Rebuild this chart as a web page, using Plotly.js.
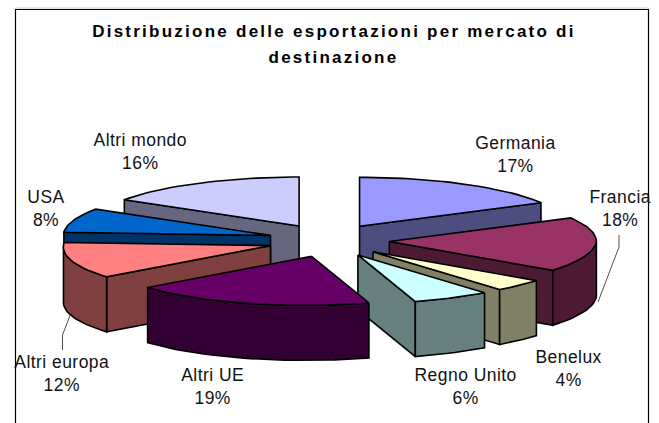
<!DOCTYPE html>
<html><head><meta charset="utf-8">
<script src="https://cdn.plot.ly/plotly-3.0.1.min.js"></script>
<style>
html,body{margin:0;padding:0;background:#fff;overflow:hidden}
#chart{width:659px;height:423px}
.annotation text{letter-spacing:.45px}
.annotation[data-index="8"] text,.annotation[data-index="9"] text{letter-spacing:2.25px}
</style></head><body><div id="chart"></div>
<script>
// Data
const categories = ["Germania","Francia","Benelux","Regno Unito","Altri UE","Altri europa","USA","Altri mondo"];
const shares = [17,18,4,6,19,12,8,16];
const topColors = ["#9999FF","#993366","#FFFFCC","#CCFFFF","#660066","#FF8080","#0066CC","#CCCCFF"];
const sideColors = ["#4D4D80","#4D1A33","#808066","#668080","#330033","#804040","#003366","#666680"];
// Chart title
const titleLines = ["Distribuzione delle esportazioni per mercato di","destinazione"];

// Pie geometry (pixel scale of the axes)
const cx=328.5, cy=240.5, rx=207, ry=49, depth=55, pullX=61, pullY=16.5, frontShear=0.14;
const rad=d=>d*Math.PI/180;
const total=shares.reduce((a,b)=>a+b,0);
let cum=0;
const slices=shares.map((v,i)=>{
  const s=cum/total*360; cum+=v; const e=cum/total*360; const m=(s+e)/2;
  return {i,s,e,ax:cx+pullX*Math.sin(rad(m)),ay:cy-pullY*Math.cos(rad(m))};
});
const pt=(sl,t)=>{
  const dy=-ry*Math.cos(rad(t));
  return [sl.ax+rx*Math.sin(rad(t))-frontShear*Math.max(dy,0),sl.ay+dy];
};
function poly(pts,fill){
  return {type:'scatter',mode:'lines',x:pts.map(p=>p[0]),y:pts.map(p=>p[1]),fill:'toself',
    fillcolor:fill,line:{color:'#000',width:1.6,shape:'linear'},hoverinfo:'skip',showlegend:false};
}
function arc(sl,a,b){const o=[];const n=Math.max(2,Math.ceil(Math.abs(b-a)/2));
  for(let k=0;k<=n;k++)o.push(pt(sl,a+(b-a)*k/n));return o;}
const down=p=>[p[0],p[1]+depth];
function sliceTraces(sl){
  const t=[];const apex=[sl.ax,sl.ay];const side=sideColors[sl.i];
  if(Math.sin(rad(sl.s))<-1e-6){const p=pt(sl,sl.s);t.push(poly([apex,p,down(p),down(apex),apex],side));}
  if(Math.sin(rad(sl.e))>1e-6){const p=pt(sl,sl.e);t.push(poly([apex,p,down(p),down(apex),apex],side));}
  const a=Math.max(sl.s,90),b=Math.min(sl.e,270);
  if(b>a){const c=arc(sl,a,b);t.push(poly(c.concat(c.slice().reverse().map(down),[c[0]]),side));}
  t.push(poly([apex].concat(arc(sl,sl.s,sl.e),[apex]),topColors[sl.i]));
  return t;
}
// back to front
const order=[7,0,6,1,5,2,3,4];
const traces=[];
order.forEach(i=>traces.push(...sliceTraces(slices[i])));

// Label placement (layout only)
const labelAt=[[515,154.5],[620,208],[568,368.5],[465,386.5],[212.5,386.5],[62,373.5],[46,208],[140,151]];
const fontFamily='"Liberation Sans",Arial,sans-serif';
const annotations=categories.map((c,i)=>({
  xref:'x',yref:'y',x:labelAt[i][0],y:labelAt[i][1],showarrow:false,align:'center',
  text:c+"<br>"+shares[i]+"%",font:{family:fontFamily,size:17.5,color:'#111'}
}));
const titleY=[31,57];
titleLines.forEach((l,k)=>annotations.push({xref:'x',yref:'y',x:333.5,y:titleY[k],showarrow:false,align:'center',
  text:"<b>"+l+"</b>",font:{family:fontFamily,size:17,color:'#000'}}));

const shapes=[
 {type:'line',xref:'x',yref:'y',x0:15,x1:649,y0:8,y1:8,line:{color:'#ccc',width:1},layer:'below'},
 {type:'rect',xref:'x',yref:'y',x0:15.5,x1:648.5,y0:9.5,y1:440,line:{color:'#000',width:1.2},fillcolor:'rgba(0,0,0,0)',layer:'below'},
 {type:'path',xref:'x',yref:'y',path:'M619,235 L619,247 L598,302',line:{color:'#222',width:0.8}},
 {type:'path',xref:'x',yref:'y',path:'M62.5,350 L62.5,335 L71,313',line:{color:'#222',width:0.8}}
];

Plotly.newPlot('chart',traces,{
  width:659,height:423,margin:{l:0,r:0,t:0,b:0},paper_bgcolor:'#fff',plot_bgcolor:'#fff',showlegend:false,
  xaxis:{range:[0,659],visible:false,fixedrange:true},
  yaxis:{range:[423,0],visible:false,fixedrange:true},
  annotations,shapes,hovermode:false
},{displayModeBar:false,staticPlot:true});
</script></body></html>
